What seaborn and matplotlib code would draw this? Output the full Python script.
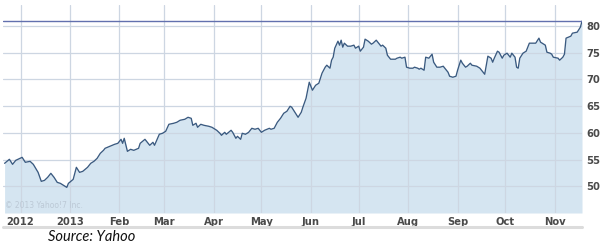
import matplotlib
matplotlib.use("Agg")
import matplotlib.pyplot as plt
from matplotlib.lines import Line2D
import pandas as pd
import seaborn as sns

# ---- data ----
dates = [
    "2012-11-21", "2012-11-24", "2012-11-26", "2012-11-28", "2012-12-02", "2012-12-04",
    "2012-12-07", "2012-12-09", "2012-12-12", "2012-12-14", "2012-12-16", "2012-12-18",
    "2012-12-20", "2012-12-22", "2012-12-24", "2012-12-26", "2012-12-27", "2012-12-30",
    "2012-12-31", "2013-01-03", "2013-01-05", "2013-01-07", "2013-01-09", "2013-01-12",
    "2013-01-14", "2013-01-16", "2013-01-18", "2013-01-20", "2013-01-22", "2013-01-23",
    "2013-01-26", "2013-01-29", "2013-01-31", "2013-02-02", "2013-02-03", "2013-02-04",
    "2013-02-06", "2013-02-08", "2013-02-10", "2013-02-13", "2013-02-14", "2013-02-17",
    "2013-02-19", "2013-02-20", "2013-02-22", "2013-02-23", "2013-02-26", "2013-02-28",
    "2013-03-02", "2013-03-04", "2013-03-07", "2013-03-09", "2013-03-11", "2013-03-14",
    "2013-03-16", "2013-03-18", "2013-03-19", "2013-03-21", "2013-03-22", "2013-03-24",
    "2013-03-26", "2013-03-29", "2013-03-31", "2013-04-03", "2013-04-05", "2013-04-06",
    "2013-04-08", "2013-04-09", "2013-04-12", "2013-04-13", "2013-04-15", "2013-04-16",
    "2013-04-18", "2013-04-19", "2013-04-21", "2013-04-23", "2013-04-25", "2013-04-27",
    "2013-04-29", "2013-05-01", "2013-05-03", "2013-05-06", "2013-05-07", "2013-05-09",
    "2013-05-11", "2013-05-13", "2013-05-15", "2013-05-17", "2013-05-19", "2013-05-20",
    "2013-05-22", "2013-05-24", "2013-05-26", "2013-05-27", "2013-05-29", "2013-05-30",
    "2013-05-31", "2013-06-02", "2013-06-04", "2013-06-06", "2013-06-08", "2013-06-10",
    "2013-06-11", "2013-06-13", "2013-06-14", "2013-06-15", "2013-06-16", "2013-06-18",
    "2013-06-19", "2013-06-20", "2013-06-21", "2013-06-22", "2013-06-24", "2013-06-26",
    "2013-06-28", "2013-06-29", "2013-07-01", "2013-07-02", "2013-07-04", "2013-07-05",
    "2013-07-07", "2013-07-09", "2013-07-10", "2013-07-12", "2013-07-13", "2013-07-15",
    "2013-07-16", "2013-07-18", "2013-07-19", "2013-07-21", "2013-07-24", "2013-07-25",
    "2013-07-27", "2013-07-28", "2013-07-30", "2013-07-31", "2013-08-02", "2013-08-04",
    "2013-08-05", "2013-08-07", "2013-08-08", "2013-08-09", "2013-08-11", "2013-08-12",
    "2013-08-14", "2013-08-16", "2013-08-17", "2013-08-19", "2013-08-21", "2013-08-23",
    "2013-08-24", "2013-08-26", "2013-08-27", "2013-08-29", "2013-08-31", "2013-09-01",
    "2013-09-03", "2013-09-04", "2013-09-06", "2013-09-07", "2013-09-09", "2013-09-10",
    "2013-09-13", "2013-09-15", "2013-09-16", "2013-09-18", "2013-09-19", "2013-09-20",
    "2013-09-22", "2013-09-23", "2013-09-24", "2013-09-26", "2013-09-27", "2013-09-29",
    "2013-09-30", "2013-10-02", "2013-10-04", "2013-10-05", "2013-10-07", "2013-10-08",
    "2013-10-09", "2013-10-10", "2013-10-12", "2013-10-14", "2013-10-16", "2013-10-18",
    "2013-10-20", "2013-10-22", "2013-10-23", "2013-10-26", "2013-10-27", "2013-10-29",
    "2013-10-30", "2013-10-31", "2013-11-03", "2013-11-04", "2013-11-06", "2013-11-07",
    "2013-11-08", "2013-11-11", "2013-11-12", "2013-11-15", "2013-11-17", "2013-11-18",
]
prices = [
    54.29, 55.04, 54.10, 54.85, 55.41, 54.48,
    54.66, 54.10, 52.60, 50.92, 51.10, 51.67,
    52.42, 51.67, 50.73, 50.54, 50.35, 49.79,
    50.54, 51.29, 53.54, 52.60, 52.79, 53.54,
    54.29, 54.66, 55.22, 56.16, 56.72, 57.10,
    57.47, 57.85, 58.03, 58.78, 58.03, 58.97,
    56.53, 56.91, 56.72, 57.10, 58.03, 58.78,
    58.03, 57.66, 58.22, 57.66, 59.72, 59.91,
    60.28, 61.59, 61.78, 61.97, 62.34, 62.53,
    62.90, 62.71, 61.40, 61.78, 61.03, 61.59,
    61.40, 61.22, 61.03, 60.47, 59.91, 59.53,
    60.09, 59.72, 60.47, 60.09, 58.97, 59.34,
    58.78, 59.91, 59.72, 60.09, 60.84, 60.66,
    60.84, 60.09, 60.47, 60.84, 60.66, 60.84,
    61.97, 62.71, 63.65, 64.03, 64.96, 64.78,
    63.84, 62.90, 63.84, 64.78, 66.46, 67.96,
    69.46, 67.96, 68.89, 69.27, 71.14, 72.27,
    72.64, 72.08, 73.58, 74.14, 75.82, 77.13,
    76.39, 77.32, 76.01, 76.76, 76.20, 76.20,
    76.39, 75.82, 76.20, 75.26, 76.01, 77.51,
    77.13, 76.57, 76.76, 77.32, 76.95, 76.20,
    76.39, 75.82, 74.51, 73.76, 73.76, 73.95,
    74.14, 73.95, 74.14, 72.27, 72.08, 72.08,
    72.27, 72.08, 71.89, 72.08, 71.70, 74.14,
    73.95, 74.70, 73.20, 72.27, 72.27, 72.45,
    72.08, 71.33, 70.58, 70.39, 70.58, 71.70,
    73.58, 73.01, 72.27, 72.45, 73.01, 72.64,
    72.45, 72.08, 71.70, 70.95, 72.64, 74.33,
    73.95, 73.20, 73.95, 75.26, 75.07, 73.95,
    74.51, 74.89, 74.14, 74.89, 74.14, 72.27,
    72.08, 73.95, 74.89, 75.26, 76.76, 76.76,
    76.76, 77.70, 76.95, 76.39, 75.07, 74.89,
    74.70, 74.14, 73.95, 73.58, 74.14, 74.70,
    77.70, 78.07, 78.63, 78.82, 79.76, 80.88,
]
tick_dates = ["2012-12-01", "2013-01-01", "2013-02-01", "2013-03-01", "2013-04-01",
              "2013-05-01", "2013-06-01", "2013-07-01", "2013-08-01", "2013-09-01",
              "2013-10-01", "2013-11-01"]
tick_labels = ["2012", "2013", "Feb", "Mar", "Apr", "May", "Jun", "Jul", "Aug",
               "Sep", "Oct", "Nov"]
y_ticks = [50, 55, 60, 65, 70, 75, 80]
x_start, x_end = "2012-11-20", "2013-11-18"
y_min, y_max = 45, 83.9

df = pd.DataFrame({"date": pd.to_datetime(dates), "price": prices})

sns.set_style("white")
plt.rcParams["font.family"] = ["DejaVu Sans"]

fig = plt.figure(figsize=(6.0, 2.45), dpi=100)
ax = fig.add_axes([3 / 600, 32 / 245, 579 / 600, 208 / 245])

ax.fill_between(df["date"], df["price"], y_min, color="#d5e5f1", linewidth=0, zorder=1)
sns.lineplot(data=df, x="date", y="price", ax=ax, color="#3a5a80", linewidth=0.95, zorder=4)
ax.axhline(prices[-1], color="#6270ae", linewidth=1.0, zorder=5)

ax.set_xlim(pd.Timestamp(x_start), pd.Timestamp(x_end))
ax.set_ylim(y_min, y_max)
ax.set_xticks(pd.to_datetime(tick_dates))
ax.set_xticklabels(tick_labels)
ax.set_yticks(y_ticks)
ax.yaxis.tick_right()
ax.set_xlabel("")
ax.set_ylabel("")

ax.set_axisbelow(False)
ax.grid(True, color="#cdd6e2", linewidth=0.9, zorder=2)
for s in ax.spines.values():
    s.set_visible(False)

ax.tick_params(axis="both", length=0, labelsize=7.2, labelcolor="#4a4a4a")
ax.tick_params(axis="x", pad=3)
ax.tick_params(axis="y", pad=3)
for lab in ax.get_xticklabels() + ax.get_yticklabels():
    lab.set_fontweight("bold")

ax.text(0.004, 0.015, "\u00a9 2013 Yahoo!7 Inc.", transform=ax.transAxes,
        fontsize=5.5, color="#bcc9d6", ha="left", va="bottom", zorder=6)

# gray strip below the axis labels
fig.add_artist(Line2D([3 / 600, 582 / 600], [18.5 / 245, 18.5 / 245],
                      transform=fig.transFigure, color="#dcdcdc", linewidth=2.2))

fig.text(48 / 600, 1 / 245, "Source: Yahoo", fontsize=10.5, style="italic",
         family=["Lato", "DejaVu Sans"], color="#111111", ha="left", va="bottom")

fig.savefig("out.png", dpi=100, facecolor="white")
